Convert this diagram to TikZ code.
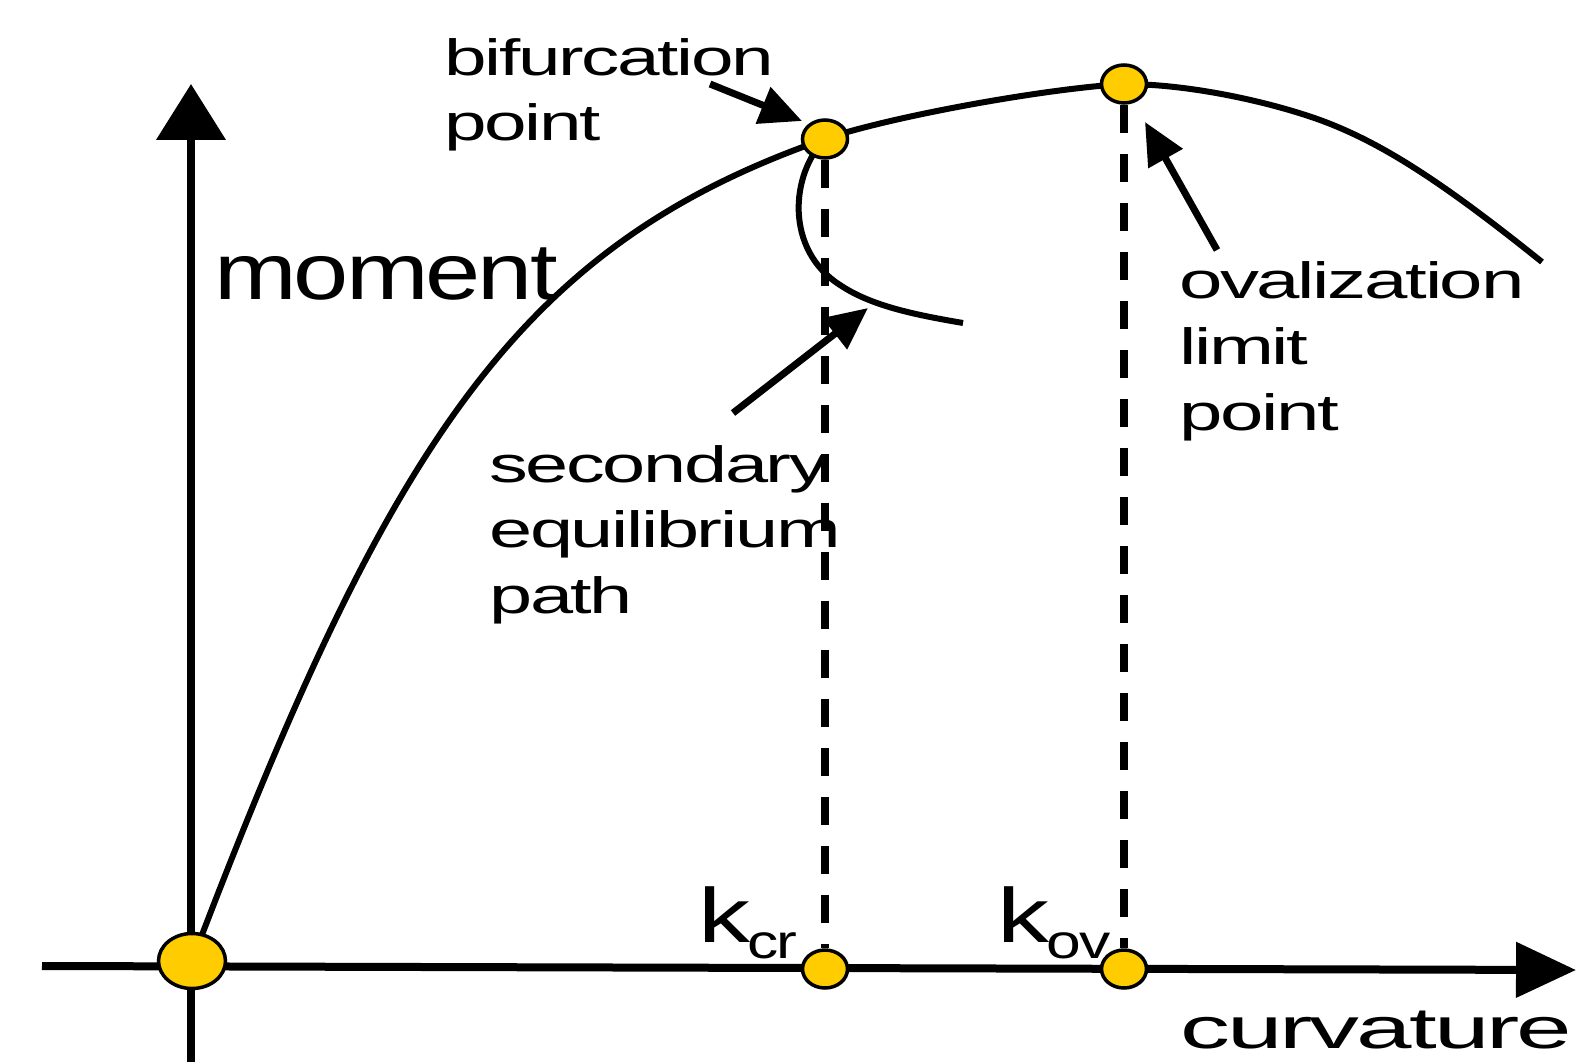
\documentclass[tikz,border=0pt]{standalone}
\usepackage{fontspec}
\setmainfont{Liberation Sans}[LetterSpace=-3]
\usepackage{graphicx}
\usetikzlibrary{arrows.meta, shapes.geometric}

\definecolor{dotyellow}{RGB}{255,204,0}
\newcommand{\stretched}[2]{\scalebox{#1}[1]{#2}}

\tikzset{
  dot/.style={ellipse, draw=black, line width=3.5pt, fill=dotyellow, inner sep=0pt, minimum width=45pt, minimum height=38pt},
  bigdot/.style={dot, minimum width=67pt, minimum height=55pt},
  curve/.style={line width=6pt, line join=round},
  yaxis/.style={line width=8pt, -{Triangle[length=56pt, width=68pt]}},
  xaxis/.style={line width=8pt, -{Triangle[length=60pt, width=54pt]}},
  pointer/.style={line width=7pt, -{Triangle[length=42pt, width=38pt]}},
  guide/.style={line width=8pt, dash pattern=on 28pt off 21pt},
  lbl/.style={anchor=base west, inner sep=0pt},
  smalltext/.style={lbl, font=\fontsize{51}{60}\selectfont},
  bigtext/.style={lbl, font=\fontsize{80}{90}\selectfont},
}

\begin{document}
\begin{tikzpicture}[x=1pt, y=-1pt]
  \useasboundingbox (0,0) rectangle (1576,1062);

  % axes
  \draw[yaxis] (191,1062) -- (191,84);
  \draw[xaxis] (42,966) -- (1576,970);

  % dot positions
  \coordinate (pO) at (192,961);
  \coordinate (pB) at (825,139);
  \coordinate (pL) at (1124,84);
  \coordinate (pKcr) at (825,969);
  \coordinate (pKov) at (1124,969);

  % primary path
  \draw[curve] (pO) .. controls (390,440) and (520,245) .. (pB)
    .. controls (885,118) and (1040,89) .. (pL)
    .. controls (1190,84) and (1270,102) .. (1320,120)
    .. controls (1380,142) and (1440,180) .. (1542,262);

  % secondary path
  \draw[curve] (pB) .. controls (790,175) and (785,250) .. (840,285)
    .. controls (870,305) and (910,314) .. (963,323);

  % dots
  \node[bigdot] (O) at (pO) {};
  \node[dot] (B) at (pB) {};
  \node[dot] (L) at (pL) {};
  \node[dot] (Kcr) at (pKcr) {};
  \node[dot] (Kov) at (pKov) {};

  \draw[guide] (B) -- (Kcr);
  \draw[guide] (L) -- (Kov);

  % pointers
  \coordinate (bifTail) at (710,84);
  \coordinate (bifTip) at (802,121);
  \coordinate (ovTail) at (1217,250);
  \coordinate (ovTip) at (1145,122);
  \coordinate (secTail) at (733,413);
  \coordinate (secTip) at (868,308);
  \draw[pointer] (bifTail) -- (bifTip);
  \draw[pointer] (ovTail) -- (ovTip);
  \draw[pointer] (secTail) -- (secTip);

  % labels
  \node[smalltext] (bifA) at (444,76) {\stretched{1.5}{bifurcation}};
  \node[smalltext] (bifB) at (444,141) {\stretched{1.5}{point}};
  \node[bigtext] (mom) at (214,299) {\stretched{1.24}{moment}};
  \node[smalltext] (secA) at (489,482) {\stretched{1.52}{secondary}};
  \node[smalltext] (secB) at (489,547) {\stretched{1.52}{equilibrium}};
  \node[smalltext] (secC) at (489,613) {\stretched{1.52}{path}};
  \node[smalltext] (ovA) at (1179,298) {\stretched{1.53}{ovalization}};
  \node[smalltext] (ovB) at (1179,364) {\stretched{1.53}{limit}};
  \node[smalltext] (ovC) at (1179,430) {\stretched{1.53}{point}};
  \node[lbl, font=\fontsize{58}{60}\selectfont] (curv) at (1180,1048) {\stretched{1.72}{curvature}};
  \node[lbl] (kcr) at (698,942) {\fontsize{77}{80}\selectfont\stretched{1.35}{k}\kern-3pt\raisebox{-16pt}{\fontsize{48}{50}\selectfont\stretched{1.3}{cr}}};
  \node[lbl] (kov) at (997,942) {\fontsize{77}{80}\selectfont\stretched{1.35}{k}\kern-3pt\raisebox{-16pt}{\fontsize{48}{50}\selectfont\stretched{1.3}{ov}}};
\end{tikzpicture}
\end{document}
